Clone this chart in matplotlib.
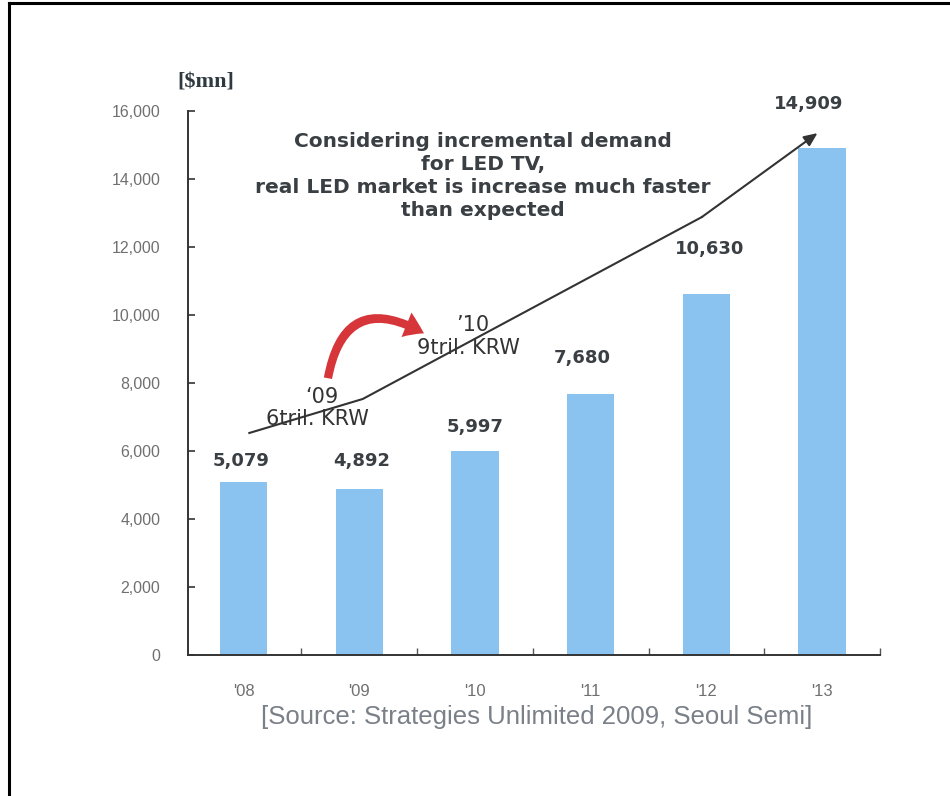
import matplotlib
matplotlib.use("Agg")
import matplotlib.pyplot as plt
from matplotlib import font_manager
from matplotlib.patches import FancyArrowPatch
from matplotlib.lines import Line2D

# ---- data ----
years = ["'08", "'09", "'10", "'11", "'12", "'13"]
market = [5079, 4892, 5997, 7680, 10630, 14909]
value_labels = ["5,079", "4,892", "5,997", "7,680", "10,630", "14,909"]
yticks = [0, 2000, 4000, 6000, 8000, 10000, 12000, 14000, 16000]
ytick_labels = ["0", "2,000", "4,000", "6,000", "8,000", "10,000", "12,000", "14,000", "16,000"]
trend_x = [0.05, 1.03, 3.96, 4.96]
trend_y = [6530, 7530, 12880, 15350]
unit_label = "[$mn]"
note_text = ("Considering incremental demand\nfor LED TV,\n"
             "real LED market is increase much faster\nthan expected")
source_text = "[Source: Strategies Unlimited 2009, Seoul Semi]"

names = {f.name for f in font_manager.fontManager.ttflist}
narrow = "Liberation Sans Narrow" if "Liberation Sans Narrow" in names else "Liberation Sans"

fig = plt.figure(figsize=(9.5, 7.96), dpi=100)
ax = fig.add_axes([188/950, 1-655/796, (880-188)/950, (655-111)/796])

x = list(range(len(years)))
ax.bar(x, market, width=0.41, color="#8ac3f0", zorder=2)

ax.set_xlim(-0.48, 5.49)
ax.set_ylim(0, 16000)
for s in ["top", "right"]:
    ax.spines[s].set_visible(False)
for s in ["left", "bottom"]:
    ax.spines[s].set_color("#333333")
    ax.spines[s].set_linewidth(1.4)

ax.set_yticks(yticks)
ax.set_yticklabels(ytick_labels, fontfamily=narrow, fontsize=11.5, color="#707070")
ax.tick_params(axis="y", direction="in", length=5, width=1.2, color="#333333", pad=20)

ax.set_xticks([i + 0.5 for i in x])
ax.set_xticklabels([])
ax.tick_params(axis="x", which="major", direction="in", length=5, width=1.0, color="#555555")
ax.set_xticks(x, minor=True)
ax.set_xticklabels(years, minor=True, fontfamily=narrow, fontsize=12, color="#707070")
ax.tick_params(axis="x", which="minor", length=0, pad=21)

# value labels
label_offsets = [15, 20, 17, 26, 32, 32]
label_dx = [-2, 2, 0, -6, 2, -10]
for xi, v, lab, off, dx in zip(x, market, value_labels, label_offsets, label_dx):
    ax.annotate(lab, (xi, v), xytext=(dx, off), textcoords="offset points",
                ha="center", va="center", fontsize=13, fontweight="bold",
                color="#3a3f44", fontfamily="DejaVu Sans")

# trend arrow
ax.plot(trend_x[:-1], trend_y[:-1], color="#333333", lw=1.5, zorder=3)
ax.annotate("", xy=(trend_x[-1], trend_y[-1]), xytext=(trend_x[-2], trend_y[-2]),
            arrowprops=dict(arrowstyle="-|>,head_length=0.8,head_width=0.35",
                            color="#333333", lw=1.5, shrinkA=0, shrinkB=0), zorder=3)

# red curved arrow
red = FancyArrowPatch((0.725, 8060), (1.58, 9420),
                      connectionstyle="arc3,rad=-0.72",
                      arrowstyle="simple,head_length=1.4,head_width=1.9,tail_width=0.6",
                      mutation_scale=10, color="#d6353a", lw=0, zorder=4)
ax.add_patch(red)

# KRW notes
krw_fs = 15
ax.text(0.68, 7600, "\u201809", ha="center", va="center", fontsize=krw_fs, color="#333333")
ax.text(0.64, 6940, "6tril. KRW", ha="center", va="center", fontsize=krw_fs, color="#333333")
ax.text(1.98, 9700, "\u201910", ha="center", va="center", fontsize=krw_fs, color="#333333")
ax.text(1.94, 9030, "9tril. KRW", ha="center", va="center", fontsize=krw_fs, color="#333333")

# note block
ax.text(2.07, 14080, note_text, ha="center", va="center", fontsize=14.5,
        fontweight="bold", color="#3a3f44", linespacing=1.27, fontfamily="DejaVu Sans")

# unit
fig.text(206/950, 1-82/796, unit_label, ha="center", va="center", fontsize=16,
         fontweight="bold", color="#2f3a40", fontfamily="Liberation Serif")

# source
fig.text(537/950, 1-717/796, source_text, ha="center", va="center", fontsize=18.5,
         color="#7a8088", fontfamily=narrow)

# border
fig.add_artist(Line2D([9/950, 9/950], [0, 1-3/796], transform=fig.transFigure,
                      color="black", lw=2.2))
fig.add_artist(Line2D([9/950, 1], [1-3/796, 1-3/796], transform=fig.transFigure,
                      color="black", lw=2.2))

fig.savefig("out.png", dpi=100)
